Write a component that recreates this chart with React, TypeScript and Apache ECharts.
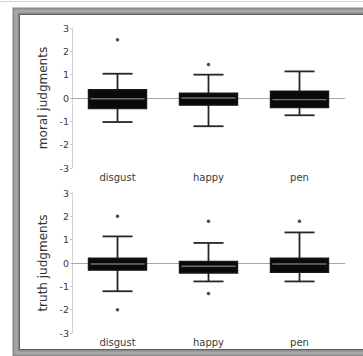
import React, { useEffect, useRef } from "react";
import * as echarts from "echarts";

const categories = ["disgust", "happy", "pen"];
// [low whisker, q1, median, q3, high whisker]
const moralBoxes = [
  [-1.03, -0.46, -0.03, 0.36, 1.04],
  [-1.21, -0.31, 0.0, 0.21, 1.0],
  [-0.74, -0.41, -0.07, 0.3, 1.14],
];
const moralOutliers = [
  [0, 2.5],
  [1, 1.44],
];
const truthBoxes = [
  [-1.21, -0.31, -0.04, 0.21, 1.14],
  [-0.79, -0.43, -0.14, 0.07, 0.86],
  [-0.79, -0.4, -0.04, 0.21, 1.31],
];
const truthOutliers = [
  [0, 2.0],
  [0, -2.0],
  [1, 1.79],
  [1, -1.31],
  [2, 1.79],
];
const yTicks = [-3, -2, -1, 0, 1, 2, 3];
const panelNames = ["moral judgments", "truth judgments"];

const FONT = "DejaVu Sans";

function renderBox(params: any, api: any) {
  const cat = api.value(0);
  const low = api.coord([cat, api.value(1)]);
  const q1 = api.coord([cat, api.value(2)]);
  const med = api.coord([cat, api.value(3)]);
  const q3 = api.coord([cat, api.value(4)]);
  const high = api.coord([cat, api.value(5)]);
  const band = api.size([1, 0])[0];
  const bw = band * 0.64;
  const cw = band * 0.33;
  const cx = low[0];
  const lineStyle = { stroke: "#262626", lineWidth: 1.8 };
  return {
    type: "group",
    children: [
      { type: "line", shape: { x1: cx, y1: low[1], x2: cx, y2: high[1] }, style: lineStyle },
      { type: "line", shape: { x1: cx - cw / 2, y1: low[1], x2: cx + cw / 2, y2: low[1] }, style: lineStyle },
      { type: "line", shape: { x1: cx - cw / 2, y1: high[1], x2: cx + cw / 2, y2: high[1] }, style: lineStyle },
      {
        type: "rect",
        shape: { x: cx - bw / 2, y: q3[1], width: bw, height: q1[1] - q3[1] },
        style: { fill: "#0a0a0a", stroke: "#1a1a1a", lineWidth: 1.2 },
      },
      {
        type: "line",
        shape: { x1: cx - bw / 2 + 2, y1: med[1], x2: cx + bw / 2 - 2, y2: med[1] },
        style: { stroke: "#707070", lineWidth: 1.4 },
      },
    ],
  };
}

export default function App() {
  const ref = useRef<HTMLDivElement>(null);
  useEffect(() => {
    const chart = echarts.init(ref.current!, null, { renderer: "svg" });
    const grids = [
      { left: 72, right: 18, top: 28, height: 140 },
      { left: 72, right: 18, top: 193, height: 140 },
    ];
    const xAxes = grids.map((_, i) => ({
      type: "category",
      gridIndex: i,
      data: categories,
      axisLine: { lineStyle: { color: "#d4d4d4", width: 1 } },
      axisTick: { show: true, alignWithLabel: true, length: 2, lineStyle: { color: "#c8c8c8" } },
      axisLabel: { color: "#3a3a3a", fontSize: 10, fontFamily: FONT, margin: 4 },
      splitLine: { show: false },
    }));
    const yAxes = grids.map((_, i) => ({
      type: "value",
      gridIndex: i,
      min: yTicks[0],
      max: yTicks[yTicks.length - 1],
      interval: 1,
      name: panelNames[i],
      nameLocation: "middle",
      nameGap: 19,
      nameTextStyle: { color: "#333", fontSize: 12, fontFamily: FONT },
      axisLine: { show: true, lineStyle: { color: "#d4d4d4", width: 1 } },
      axisTick: { show: true, length: 2, lineStyle: { color: "#c8c8c8" } },
      axisLabel: { color: "#3a3a3a", fontSize: 9.5, fontFamily: FONT, margin: 3 },
      splitLine: { show: false },
    }));
    const boxSets = [moralBoxes, truthBoxes];
    const outSets = [moralOutliers, truthOutliers];
    const series: any[] = [];
    boxSets.forEach((boxes, i) => {
      series.push({
        type: "custom",
        xAxisIndex: i,
        yAxisIndex: i,
        renderItem: renderBox,
        encode: { x: 0, y: [1, 2, 3, 4, 5] },
        data: boxes.map((b, k) => [k, ...b]),
        z: 3,
        markLine: {
          silent: true,
          symbol: "none",
          label: { show: false },
          lineStyle: { color: "#a8a8a8", width: 1, type: "solid" },
          data: [{ yAxis: 0 }],
          z: 1,
        },
      });
      series.push({
        type: "scatter",
        xAxisIndex: i,
        yAxisIndex: i,
        symbol: "circle",
        symbolSize: 3.5,
        itemStyle: { color: "#222" },
        data: outSets[i],
        z: 4,
      });
    });
    chart.setOption({
      animation: false,
      backgroundColor: "#ffffff",
      grid: grids,
      xAxis: xAxes,
      yAxis: yAxes,
      series,
      graphic: [
        { type: "line", shape: { x1: 0, y1: 1.5, x2: 363, y2: 1.5 }, style: { stroke: "#d5d5d5", lineWidth: 1 } },
        {
          type: "rect",
          shape: { x: 16, y: 11, width: 400, height: 342 },
          style: { fill: "none", stroke: "#8c8c8c", lineWidth: 7 },
        },
        {
          type: "rect",
          shape: { x: 16, y: 11, width: 400, height: 342 },
          style: { fill: "none", stroke: "#a8a8a8", lineWidth: 3 },
        },
        {
          type: "rect",
          shape: { x: 19.5, y: 14.5, width: 400, height: 335 },
          style: { fill: "none", stroke: "#5e5e5e", lineWidth: 1 },
        },
        {
          type: "rect",
          shape: { x: 12.5, y: 7.5, width: 400, height: 349 },
          style: { fill: "none", stroke: "#c4c4c4", lineWidth: 1 },
        },
      ],
    });
    return () => chart.dispose();
  }, []);
  return (
    <div
      ref={ref}
      style={{ position: "fixed", left: 0, top: 0, width: 363, height: 356, background: "#fff" }}
    />
  );
}
